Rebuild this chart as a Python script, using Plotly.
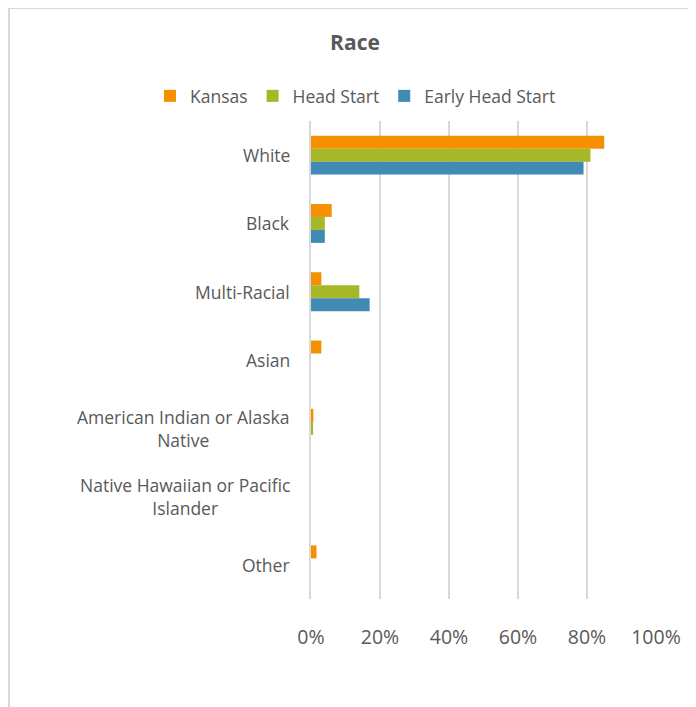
import plotly.graph_objects as go

categories = ["White", "Black", "Multi-Racial", "Asian",
              "American Indian or Alaska<br>Native",
              "Native Hawaiian or Pacific<br>Islander", "Other"]
kansas = [85, 6, 3, 3, 0.7, 0, 1.6]
head_start = [81, 4, 14, 0, 0.6, 0, 0]
early_head_start = [79, 4, 17, 0, 0, 0, 0]
tick_vals = [0, 20, 40, 60, 80, 100]
tick_text = ["0%", "20%", "40%", "60%", "80%", "100%"]

FONT = "'Open Sans', Lato, sans-serif"
GREY = "#595959"

W, H = 696, 707
L, R, T, B = 303, 48, 113, 116
pw, ph = W - L - R, H - T - B

def px(x):
    return (x - L) / pw

def py(y):
    return (H - B - y) / ph

fig = go.Figure()
series = [("Kansas", kansas, "#F59100"),
          ("Head Start", head_start, "#A6B727"),
          ("Early Head Start", early_head_start, "#418AB3")]
for name, vals, col in series:
    fig.add_trace(go.Bar(
        y=categories, x=vals, name=name, orientation="h",
        marker=dict(color=col, line=dict(width=0)),
    ))

annotations = []
for c in categories:
    annotations.append(dict(
        x=0, xref="paper", y=c, yref="y", text=c, showarrow=False,
        xanchor="right", yanchor="middle", align="center", xshift=-19,
        font=dict(family=FONT, size=17.5, color=GREY),
    ))

shapes = [
    dict(type="line", xref="paper", yref="paper", x0=px(1), x1=px(1),
         y0=py(0), y1=py(H + 5), line=dict(color="#d9d9d9", width=2)),
    dict(type="line", xref="paper", yref="paper", x0=px(0), x1=px(W + 5),
         y0=py(0), y1=py(0), line=dict(color="#d9d9d9", width=2)),
]

fig.update_layout(
    width=W, height=H,
    margin=dict(l=L, r=R, t=T, b=B, autoexpand=False),
    paper_bgcolor="white", plot_bgcolor="white",
    barmode="group", bargap=0.43, bargroupgap=0,
    title=dict(text="<b>Race</b>", xref="container", x=347 / W,
               xanchor="center", yref="container", y=1 - 35 / H,
               yanchor="middle",
               font=dict(family=FONT, size=21, color=GREY)),
    legend=dict(orientation="h", xref="paper", x=px(142),
                xanchor="left", yref="paper", y=py(88),
                yanchor="middle",
                font=dict(family=FONT, size=17.5, color=GREY),
                traceorder="normal", itemwidth=30),
    font=dict(family=FONT, color=GREY),
    annotations=annotations,
    shapes=shapes,
    showlegend=True,
)
fig.update_xaxes(range=[0, 100], tickvals=tick_vals, ticktext=tick_text,
                 showgrid=True, gridcolor="#d9d9d9", gridwidth=2,
                 zeroline=False, showline=False,
                 ticks="", ticklabelstandoff=24,
                 tickfont=dict(family=FONT, size=19.5, color=GREY))
fig.update_yaxes(autorange="reversed", showticklabels=False,
                 showline=True, linecolor="#d9d9d9", linewidth=2,
                 showgrid=False, zeroline=False, ticks="")

fig.write_html("out.html")
